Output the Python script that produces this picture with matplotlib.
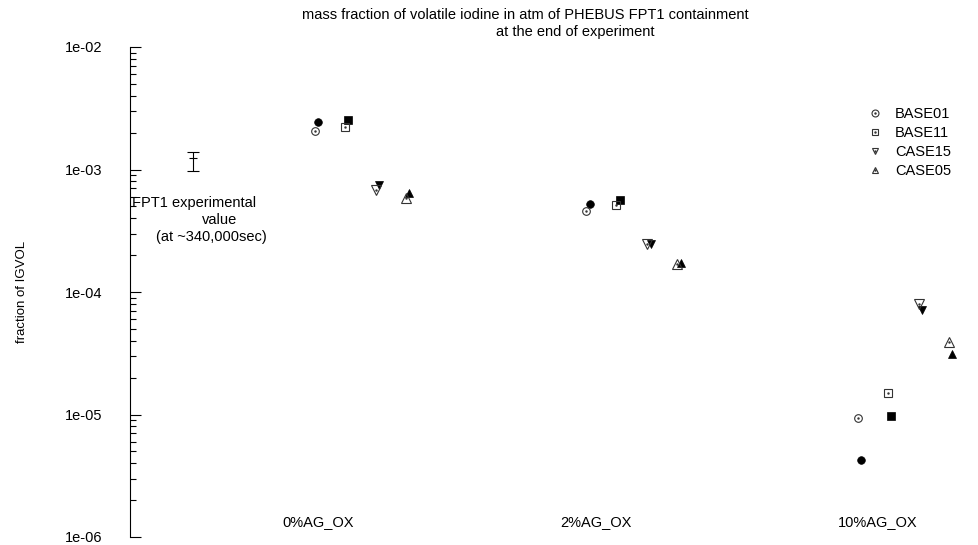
import numpy as np
import matplotlib
matplotlib.use("Agg")
import matplotlib.pyplot as plt
from matplotlib.ticker import LogLocator, FuncFormatter, NullFormatter
from matplotlib.legend_handler import HandlerTuple
from matplotlib.lines import Line2D

plt.rcParams["font.family"] = ["Liberation Sans", "DejaVu Sans"]

# data
groups = ["0%AG_OX", "2%AG_OX", "10%AG_OX"]
series_names = ["BASE01", "BASE11", "CASE15", "CASE05"]
base01_open = [2.06e-3, 4.6e-4, 9.4e-6]
base01_fill = [2.44e-3, 5.2e-4, 4.25e-6]
base11_open = [2.22e-3, 5.1e-4, 1.50e-5]
base11_fill = [2.54e-3, 5.6e-4, 9.7e-6]
case15_open = [6.8e-4, 2.45e-4, 7.98e-5]
case15_fill = [7.47e-4, 2.45e-4, 7.13e-5]
case05_open = [5.85e-4, 1.70e-4, 3.91e-5]
case05_fill = [6.42e-4, 1.72e-4, 3.12e-5]
exp_value = 1.25e-3
exp_low = 9.7e-4
exp_high = 1.40e-3

open_vals = [base01_open, base11_open, case15_open, case05_open]
fill_vals = [base01_fill, base11_fill, case15_fill, case05_fill]
markers = ["o", "s", "v", "^"]
sizes = [5.5, 6, 6.5, 6.5]
fill_sizes = [5.5, 6, 5.5, 5.5]
offsets = [0.0, 0.11, 0.225, 0.335]
fill_shift = 0.012

fig = plt.figure(figsize=(9.79, 5.45), dpi=100)
ax = fig.add_axes([130 / 979, 8 / 545, 849 / 979, 490 / 545])

x = np.arange(len(groups))
edge = "#333333"
for vals_o, vals_f, m, ms, fms, off in zip(open_vals, fill_vals, markers, sizes, fill_sizes, offsets):
    ax.plot(x + off + fill_shift, vals_f, ls="none", marker=m, ms=fms,
            mfc="black", mec="black", mew=0.5, zorder=2)
    ax.plot(x + off, vals_o, ls="none", marker=m, ms=ms,
            mfc="none", mec=edge, mew=0.8, zorder=3)
    ax.plot(x + off, vals_o, ls="none", marker=".", ms=1.5,
            color=edge, zorder=3)

# experimental value
ax.errorbar([-0.449], [exp_value],
            yerr=[[exp_value - exp_low], [exp_high - exp_value]],
            fmt="_", color="black", ms=6, mew=0.8, elinewidth=0.8,
            capsize=4, capthick=0.8)

ax.set_yscale("log")
ax.set_ylim(1e-6, 1e-2)
ax.set_xlim(-0.681, 2.446)
ax.yaxis.set_major_locator(LogLocator(base=10, numticks=10))
ax.yaxis.set_minor_locator(LogLocator(base=10, subs=np.arange(2, 10), numticks=10))
ax.yaxis.set_major_formatter(FuncFormatter(lambda v, p: f"{v:.0e}"))
ax.yaxis.set_minor_formatter(NullFormatter())
ax.tick_params(axis="y", which="major", direction="in", length=8, width=0.8,
               pad=20, labelsize=10.5)
ax.tick_params(axis="y", which="minor", direction="in", length=4, width=0.8)
ax.set_xticks([])
for s in ["top", "right", "bottom"]:
    ax.spines[s].set_visible(False)
ax.spines["left"].set_linewidth(0.8)

# group labels under the points
label_x = [0.011, 1.035, 2.074]
for gx, g in zip(label_x, groups):
    ax.text(gx, 0.031, g, transform=ax.get_xaxis_transform(),
            ha="center", va="center", fontsize=10.5)

# annotation for the experimental point
ax.text(-0.444, 1 - (203 - 47) / 490, "FPT1 experimental",
        transform=ax.get_xaxis_transform(), ha="center", va="center", fontsize=10.5)
ax.text(-0.351, 1 - (220 - 47) / 490, "value",
        transform=ax.get_xaxis_transform(), ha="center", va="center", fontsize=10.5)
ax.text(-0.381, 1 - (237 - 47) / 490, "(at ~340,000sec)",
        transform=ax.get_xaxis_transform(), ha="center", va="center", fontsize=10.5)

# title lines
fig.text(525 / 979, 1 - 15 / 545, "mass fraction of volatile iodine in atm of PHEBUS FPT1 containment",
         ha="center", va="center", fontsize=10.5)
fig.text(575 / 979, 1 - 32 / 545, "at the end of experiment",
         ha="center", va="center", fontsize=10.5)

# y label
fig.text(22 / 979, 1 - 292 / 545, "fraction of IGVOL", rotation=90,
         ha="center", va="center", fontsize=9.5,
         family=["Liberation Sans Narrow", "Liberation Sans", "DejaVu Sans"])

# legend
handles = []
for m in markers:
    h1 = Line2D([], [], ls="none", marker=m, ms=5, mfc="none", mec=edge, mew=0.8)
    h2 = Line2D([], [], ls="none", marker=".", ms=1.5, color=edge)
    handles.append((h1, h2))
ax.legend(handles, series_names, handler_map={tuple: HandlerTuple(ndivide=1, pad=0)},
          loc="upper left", bbox_to_anchor=(0.86, 0.893), frameon=False,
          handlelength=1.0, handletextpad=0.9, labelspacing=0.35,
          borderpad=0, fontsize=10.5)

fig.savefig("out.png", dpi=100)
